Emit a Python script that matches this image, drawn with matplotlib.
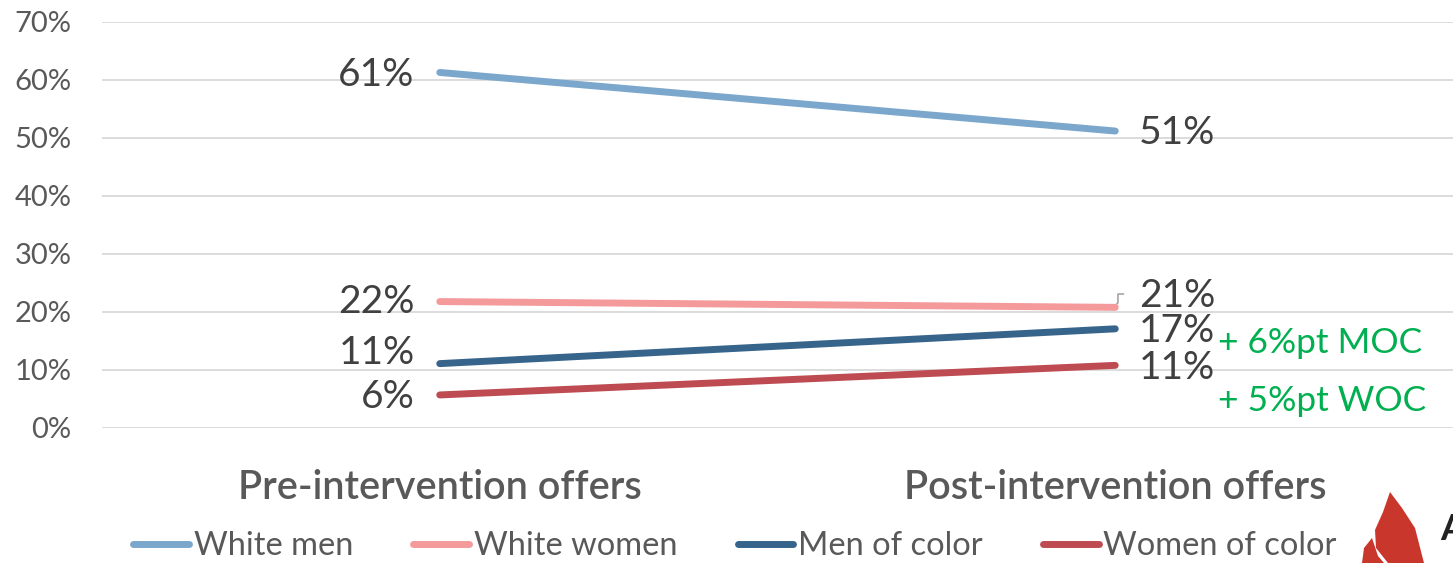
import matplotlib
matplotlib.use('Agg')
import matplotlib.pyplot as plt
from matplotlib.patches import Polygon

plt.rcParams['font.family'] = ['Lato', 'DejaVu Sans']

# Data
categories = ['Pre-intervention offers', 'Post-intervention offers']
series_names = ['White men', 'White women', 'Men of color', 'Women of color']
white_men = [61.3, 51.2]
white_women = [21.8, 20.8]
men_of_color = [11.1, 17.1]
women_of_color = [5.7, 10.8]
y_ticks = [0, 10, 20, 30, 40, 50, 60, 70]
notes = ['+ 6%pt MOC', '+ 5%pt WOC']

series = [white_men, white_women, men_of_color, women_of_color]
colors = ['#7BA7CC', '#F49A9B', '#36648B', '#BE4B51']

fig = plt.figure(figsize=(14.53, 5.63), dpi=100)
ax = fig.add_axes([102 / 1453, 1 - 428 / 563, 1351 / 1453, 406 / 563])

x = [0, 1]
for name, vals, c in zip(series_names, series, colors):
    ax.plot(x, vals, color=c, lw=5, solid_capstyle='round', label=name, zorder=3)

ax.set_xlim(-0.5, 1.5)
ax.set_ylim(0, 70)
ax.set_yticks(y_ticks)
ax.set_yticklabels([f'{t}%' for t in y_ticks], fontsize=21, color='#595959')
ax.yaxis.grid(True, color='#D9D9D9', lw=1.3)
ax.set_axisbelow(True)
ax.tick_params(axis='y', length=0, pad=22)
ax.set_xticks([])
for s in ax.spines.values():
    s.set_visible(False)

# data labels (vertical nudges in points)
lab_kw = dict(fontsize=28, color='#404040', va='center')
left_dy = [-2, 0, 8, -1.5]
right_dy = [-1.5, 8, -1.5, -2]
for vals, dy in zip(series, left_dy):
    ax.annotate(f'{round(vals[0])}%', (0, vals[0]), xytext=(-18, dy),
                textcoords='offset points', ha='right', **lab_kw)
for vals, dy in zip(series, right_dy):
    ax.annotate(f'{round(vals[1])}%', (1, vals[1]), xytext=(17, dy),
                textcoords='offset points', ha='left', **lab_kw)
# leader line for the shifted label
ax.plot([1, 1.004, 1.004, 1.012], [white_women[1] + 0.3, white_women[1] + 0.8,
        white_women[1] + 2.3, white_women[1] + 2.3], color='#A6A6A6', lw=1.2, zorder=2)

# notes
ax.text(1.152, 14.6, notes[0], fontsize=25.5, color='#00B050', va='center', ha='left')
ax.text(1.152, 4.6, notes[1], fontsize=25.5, color='#00B050', va='center', ha='left')

# category labels
for xi, cat in zip(x, categories):
    ax.text(xi, -10.3, cat, fontsize=28.5, color='#595959', ha='center', va='center',
            fontweight='semibold')

leg = fig.legend(loc='center', bbox_to_anchor=(735 / 1453, 1 - 546 / 563), ncol=4,
                 frameon=False, fontsize=23.5, handlelength=1.7, handletextpad=0.15,
                 columnspacing=1.85, labelcolor='#595959')
for h in leg.get_lines():
    h.set_linewidth(5)
    h.set_solid_capstyle('round')

# partial logo at bottom right (display pixels, origin bottom-left)
H = 563
flame = Polygon([(1388, H - 563), (1376, H - 548), (1375, H - 530), (1383, H - 512),
                 (1390, H - 492), (1402, H - 508), (1415, H - 528), (1424, H - 563)],
                closed=True, facecolor='#C9372C', edgecolor='none', transform=None)
lobe = Polygon([(1362, H - 563), (1364, H - 548), (1372, H - 538), (1378, H - 556),
                (1384, H - 563)],
               closed=True, facecolor='#C9372C', edgecolor='none', transform=None)
fig.patches.extend([flame, lobe])
fig.text(1440 / 1453, 1 - 530 / 563, 'A', fontsize=26, fontweight='bold', color='#222222',
         va='center', ha='left')

fig.savefig('out.png', dpi=100)
